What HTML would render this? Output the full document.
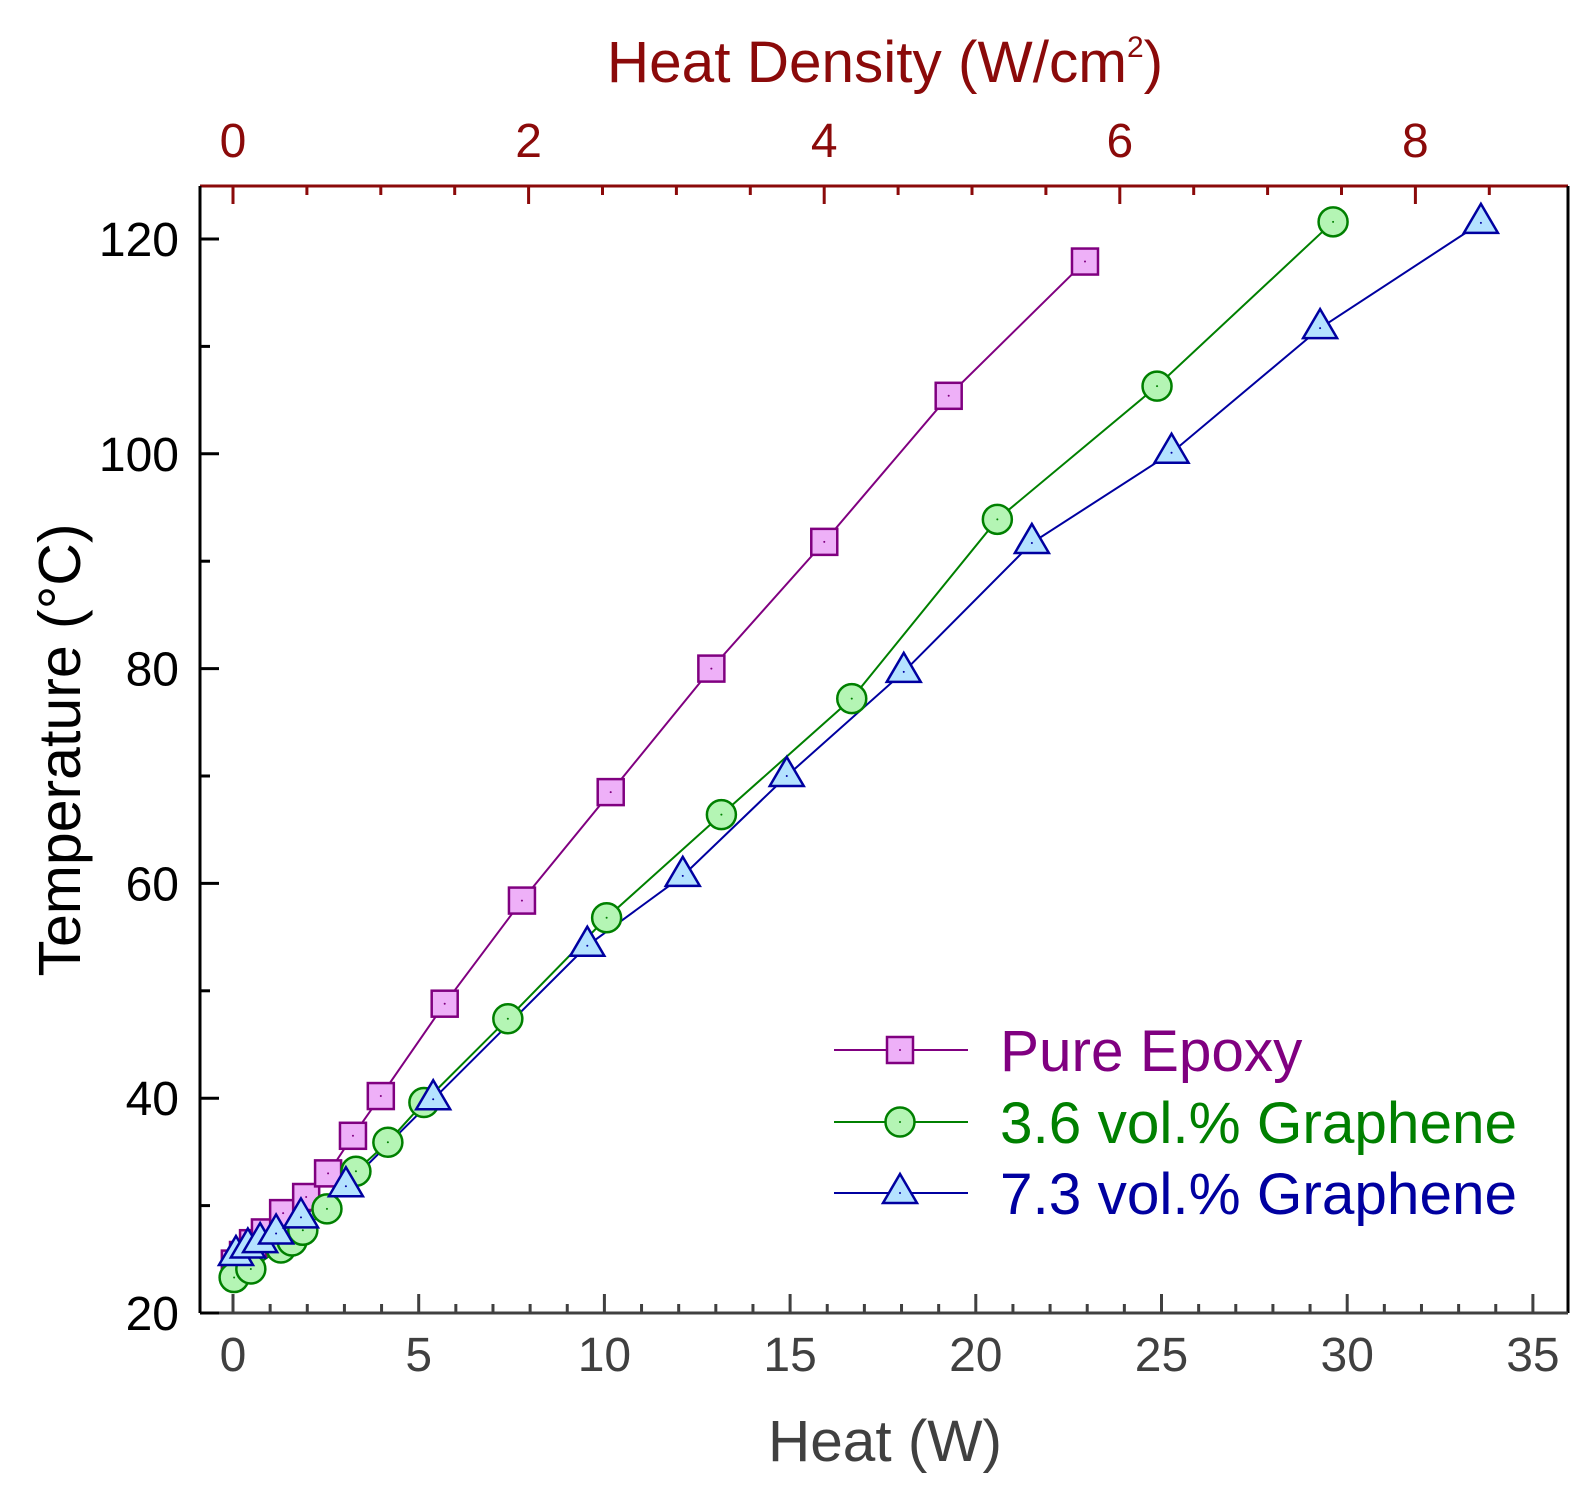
<!DOCTYPE html>
<html><head><meta charset="utf-8"><style>
html,body{margin:0;padding:0;background:#fff;}
svg{display:block;font-family:"Liberation Sans",Arial,sans-serif;}
</style></head><body>
<svg id="s" width="1594" height="1492" viewBox="0 0 1594 1492" xmlns="http://www.w3.org/2000/svg">
<g id="g"></g>
<text x="885" y="82" font-size="58.5" fill="#8b0a0a" text-anchor="middle">Heat Density (W/cm<tspan font-size="30" dy="-25">2</tspan><tspan dy="25">)</tspan></text>
<text x="885" y="1461" font-size="58.5" fill="#404040" text-anchor="middle">Heat (W)</text>
<text transform="translate(80,750) rotate(-90)" font-size="59" fill="#000" text-anchor="middle">Temperature (°C)</text>
</svg>
<script>
const NS="http://www.w3.org/2000/svg";
const g=document.getElementById('g');
function el(t,a,txt){const e=document.createElementNS(NS,t);for(const k in a)e.setAttribute(k,a[k]);if(txt!==undefined)e.textContent=txt;g.appendChild(e);return e;}
const X=w=>233+37.14*w, Y=t=>1313-(t-20)*10.74, XT=d=>233+147.8*d;
el('line',{x1:200,y1:186,x2:1568,y2:186,stroke:'#8b0a0a','stroke-width':3});
el('line',{x1:200,y1:186,x2:200,y2:1313,stroke:'#000','stroke-width':3});
el('line',{x1:1568,y1:186,x2:1568,y2:1313,stroke:'#000','stroke-width':3});
el('line',{x1:200,y1:1313,x2:1568,y2:1313,stroke:'#404040','stroke-width':3});
for(let t=20;t<=120;t+=10){const y=Y(t),maj=t%20==0;el('line',{x1:200,y1:y,x2:maj?219:210,y2:y,stroke:'#000','stroke-width':3});
 if(maj)el('text',{x:179,y:y+17,'font-size':48,'text-anchor':'end',fill:'#000'},String(t));}
for(let w=0;w<=35;w++){const x=X(w),maj=w%5==0;el('line',{x1:x,y1:1313,x2:x,y2:maj?1294:1304,stroke:'#404040','stroke-width':3});
 if(maj)el('text',{x:x,y:1371,'font-size':48,'text-anchor':'middle',fill:'#404040'},String(w));}
for(let d=0;d<=9;d+=0.5){const x=XT(d);if(x>1560)break;const maj=d%2==0;el('line',{x1:x,y1:186,x2:x,y2:maj?204:195,stroke:'#8b0a0a','stroke-width':3});
 if(maj)el('text',{x:x,y:157,'font-size':48,'text-anchor':'middle',fill:'#8b0a0a'},String(d));}
const ep=[[0.05,24.6],[0.27,25.4],[0.54,26.5],[0.86,27.5],[1.35,29.3],[1.97,30.8],[2.56,33.0],[3.23,36.5],[3.98,40.2],[5.70,48.8],[7.78,58.4],[10.17,68.5],[12.88,80.0],[15.92,91.8],[19.27,105.4],[22.94,117.9]];
const gr=[[0.03,23.3],[0.48,24.1],[1.29,26.05],[1.59,26.7],[1.88,27.7],[2.53,29.7],[3.31,33.2],[4.17,35.9],[5.14,39.6],[7.40,47.4],[10.06,56.8],[13.15,66.4],[16.66,77.2],[20.58,93.9],[24.88,106.3],[29.62,121.6]];
const bl=[[0.08,25.4],[0.40,26.1],[0.73,26.6],[1.16,27.4],[1.83,28.9],[3.04,31.8],[5.39,39.9],[9.54,54.2],[12.11,60.7],[14.91,70.0],[18.06,79.7],[21.51,91.7],[25.27,100.1],[29.27,111.7],[33.6,121.5]];
function line(d,c){el('polyline',{points:d.map(p=>X(p[0])+','+Y(p[1])).join(' '),fill:'none',stroke:c,'stroke-width':2});}
function sq(x,y){el('rect',{x:x-13,y:y-13,width:26,height:26,fill:'#eeb0f8',stroke:'#800080','stroke-width':2.5});el('circle',{cx:x,cy:y,r:1,fill:'#800080'});}
function ci(x,y){el('circle',{cx:x,cy:y,r:14.5,fill:'#b4f5b4',stroke:'#008000','stroke-width':2.5});el('circle',{cx:x,cy:y,r:1,fill:'#008000'});}
function tr(x,y){el('polygon',{points:`${x},${y-19} ${x-17},${y+10} ${x+17},${y+10}`,fill:'#b4e2ff',stroke:'#0000a0','stroke-width':2.5});el('circle',{cx:x,cy:y,r:1,fill:'#0000a0'});}
line(ep,'#800080');line(gr,'#008000');line(bl,'#0000a0');
ep.forEach(p=>sq(X(p[0]),Y(p[1])));
gr.forEach(p=>ci(X(p[0]),Y(p[1])));
bl.forEach(p=>tr(X(p[0]),Y(p[1])));
const L=[[1050,'#800080',sq,'Pure Epoxy'],[1122,'#008000',ci,'3.6 vol.% Graphene'],[1193,'#0000a0',tr,'7.3 vol.% Graphene']];
L.forEach(([y,c,f,t])=>{el('line',{x1:834,y1:y,x2:968,y2:y,stroke:c,'stroke-width':2});f(900,y);
 el('text',{x:1000,y:y+21,'font-size':58.5,fill:c},t);});
</script>
</body></html>
